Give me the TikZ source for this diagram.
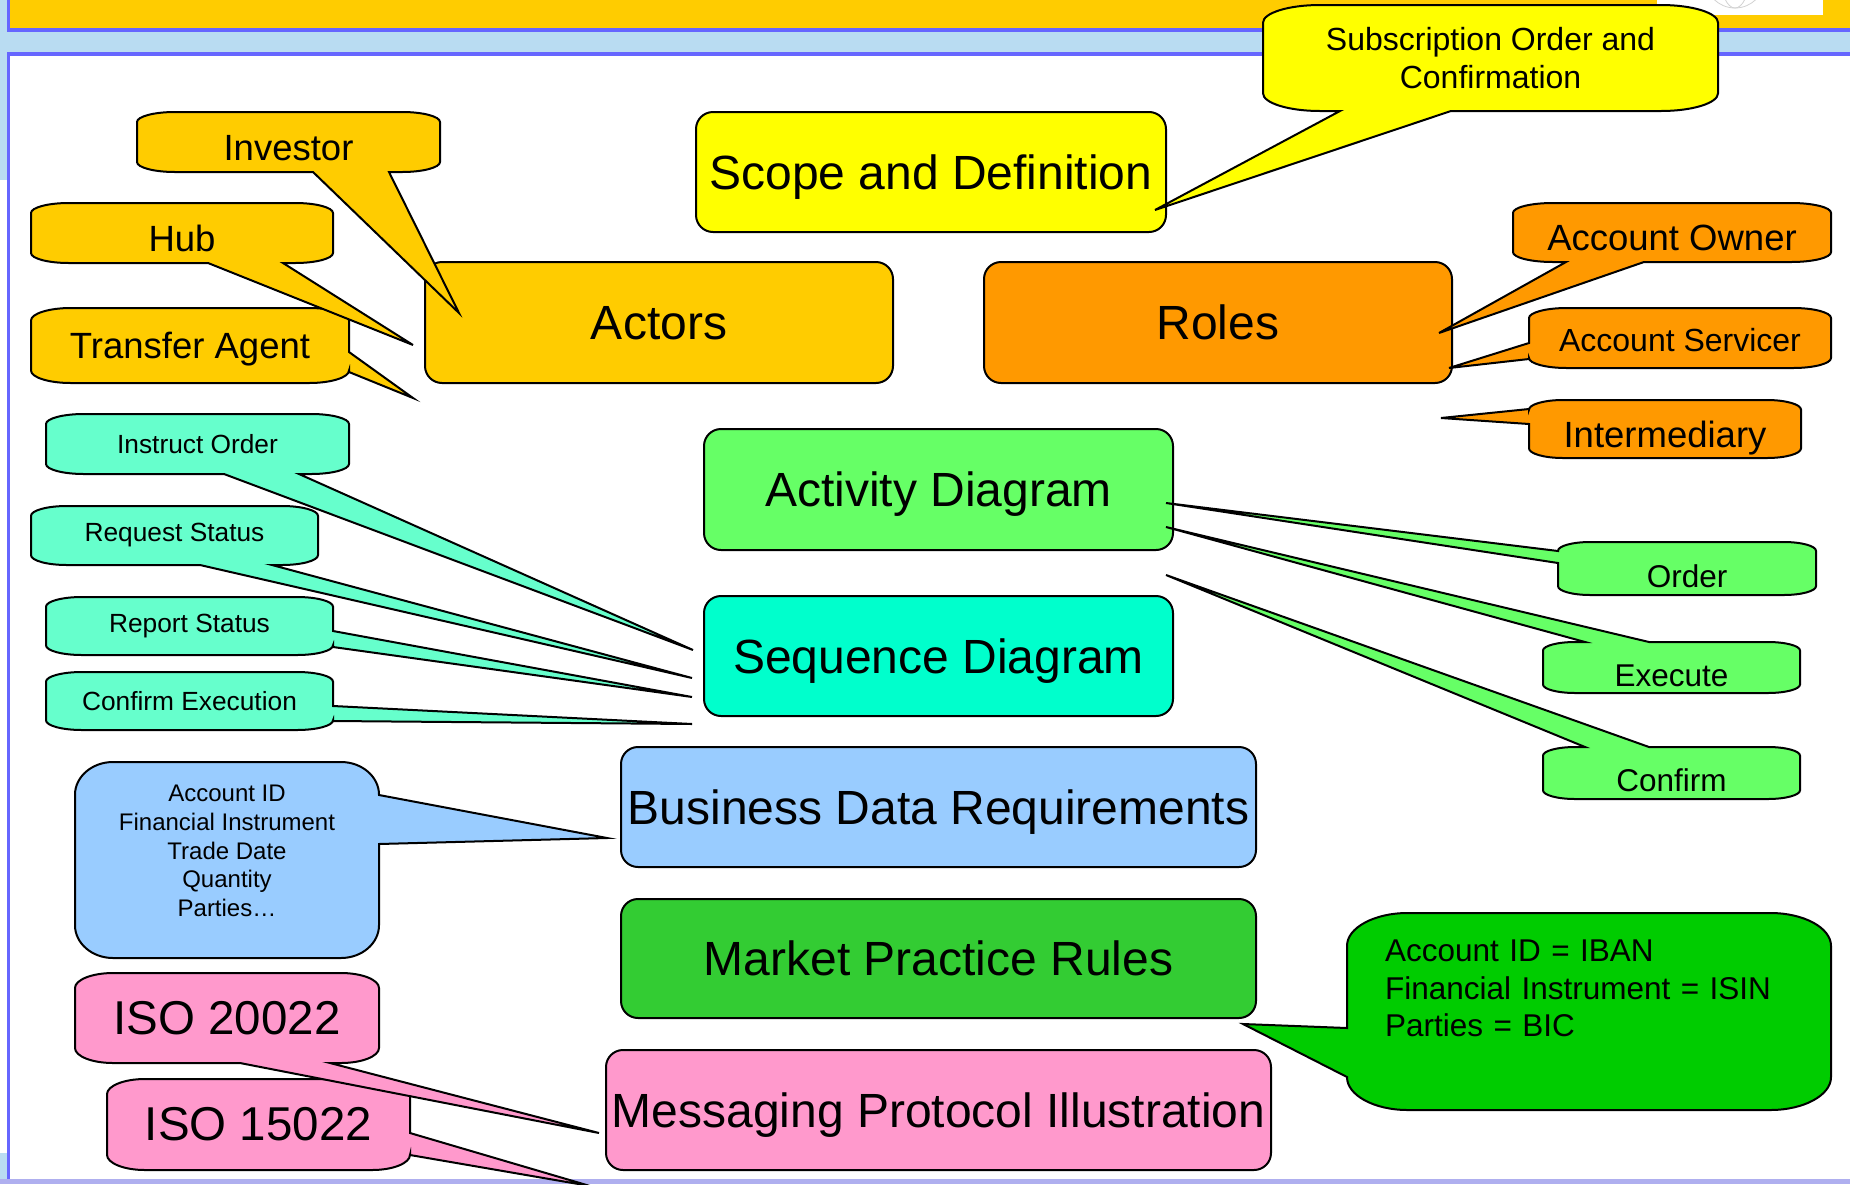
\documentclass[tikz,border=0pt]{standalone}
\usepackage{fontspec}
\setmainfont{Liberation Sans}
\usetikzlibrary{calc}
\pgfdeclarelayer{back}
\pgfdeclarelayer{shapes}
\pgfsetlayers{back,shapes,main}

\definecolor{actorfill}{HTML}{FFCC00}
\definecolor{rolefill}{HTML}{FF9900}
\definecolor{scopefill}{HTML}{FFFF00}
\definecolor{actfill}{HTML}{66FF66}
\definecolor{seqfill}{HTML}{00FFCC}
\definecolor{seqnote}{HTML}{66FFCC}
\definecolor{datafill}{HTML}{99CCFF}
\definecolor{rulefill}{HTML}{33CC33}
\definecolor{rulenote}{HTML}{00CC00}
\definecolor{msgfill}{HTML}{FF99CC}
\definecolor{frameblue}{HTML}{6666FF}
\definecolor{bandblue}{HTML}{B9DCF2}
\definecolor{bottomline}{HTML}{AFAFEF}

\tikzset{
    topic/.style={
        draw, line width=2pt,
        rounded corners=17pt,
        inner sep=0pt, outer sep=0pt,
        minimum width=469pt, minimum height=120pt,
        text depth=0pt,
        font=\fontsize{48}{58}\selectfont},
    bubble/.style={
        inner sep=0pt, outer sep=0pt,
        align=center},
    bubble line/.style={draw, line width=2pt},
    txtbig/.style={font=\fontsize{36.5}{44}\selectfont, text height=36pt, text depth=0pt},
    txtmid/.style={font=\fontsize{32}{37.8}\selectfont},
    txtact/.style={font=\fontsize{31.5}{37.8}\selectfont, text height=37pt, text depth=0pt},
    txtsmall/.style={font=\fontsize{26.3}{31}\selectfont},
    txttiny/.style={font=\fontsize{24}{28.7}\selectfont},
    txtiso/.style={font=\fontsize{47.5}{56}\selectfont}}

% #1 node, #2 fill, #3 side (T,R,B,L), #4 #5 pointer base along that side
\newcommand{\bubble}[5]{%
    \def\ptT{}\def\ptR{}\def\ptB{}\def\ptL{}%
    \if#3T\def\ptT{-- (#4,0 |- #1.north) -- (#1-tip) -- (#5,0 |- #1.north)}\fi
    \if#3R\def\ptR{-- (#1.east |- 0,#4) -- (#1-tip) -- (#1.east |- 0,#5)}\fi
    \if#3B\def\ptB{-- (#4,0 |- #1.south) -- (#1-tip) -- (#5,0 |- #1.south)}\fi
    \if#3L\def\ptL{-- (#1.west |- 0,#4) -- (#1-tip) -- (#1.west |- 0,#5)}\fi
    \begin{pgfonlayer}{shapes}
    \path[bubble line, fill=#2] let \p1=(#1.north west), \p2=(#1.south east),
            \n1={(\x2-\x1)/8}, \n2={(\y1-\y2)/6} in
        (\x1,\y1-\n2) .. controls (\x1,\y1-0.45*\n2) and (\x1+0.45*\n1,\y1) .. (\x1+\n1,\y1) \ptT
        -- (\x2-\n1,\y1) .. controls (\x2-0.45*\n1,\y1) and (\x2,\y1-0.45*\n2) .. (\x2,\y1-\n2) \ptR
        -- (\x2,\y2+\n2) .. controls (\x2,\y2+0.45*\n2) and (\x2-0.45*\n1,\y2) .. (\x2-\n1,\y2) \ptB
        -- (\x1+\n1,\y2) .. controls (\x1+0.45*\n1,\y2) and (\x1,\y2+0.45*\n2) .. (\x1,\y2+\n2) \ptL
        -- cycle;
    \end{pgfonlayer}}

\begin{document}
\begin{tikzpicture}[x=1pt, y=-1pt]
    \useasboundingbox (0,0) rectangle (1850,1184);

    % slide frame
    \begin{pgfonlayer}{back}
        \fill[white] (0,0) rectangle (1850,1184);
        \fill[bandblue] (0,0) rectangle (1850,56);
        \fill[bandblue] (0,0) rectangle (7,180);
        \fill[frameblue] (7,0) rectangle (1850,32);
        \fill[actorfill] (10,0) rectangle (1850,28);
        \fill[frameblue] (7,52) rectangle (1850,1179);
        \fill[white] (10,56) rectangle (1850,1179);
        \fill[bandblue] (0,1153) rectangle (7,1179);
        \fill[bottomline] (0,1179) rectangle (1850,1184);
        \fill[white] (1657,0) rectangle (1823,15);
        \begin{scope}
            \clip (1657,0) rectangle (1823,15);
            \draw[gray!35, line width=0.8pt] (1735,-22) circle (30);
            \draw[gray!35, line width=0.8pt] (1735,-22) ellipse (14 and 30);
        \end{scope}
    \end{pgfonlayer}

    % main topics
    \begin{pgfonlayer}{shapes}
        \node[topic, fill=scopefill, minimum width=470pt] (scope) at (931,172) {Scope and Definition};
        \node[topic, fill=actorfill, minimum width=468pt, minimum height=121pt] (actors) at (659,322.5) {Actors};
        \node[topic, fill=rolefill, minimum width=468pt, minimum height=121pt] (roles) at (1218,322.5) {Roles};
        \node[topic, fill=actfill, minimum height=121pt] (activity) at (938.5,489.5) {Activity Diagram};
        \node[topic, fill=seqfill] (sequence) at (938.5,656) {Sequence Diagram};
        \node[topic, fill=datafill, minimum width=635pt] (bizdata) at (938.5,807) {Business Data Requirements};
        \node[topic, fill=rulefill, minimum width=635pt, minimum height=119pt] (rules) at (938.5,958.5) {Market Practice Rules};
        \node[topic, fill=msgfill, minimum width=665pt] (msg) at (938.5,1110) {Messaging Protocol Illustration};
    \end{pgfonlayer}

    % actors
    \coordinate (ta-tip) at (413,398);
    \node[bubble, txtbig, text height=25pt, minimum width=318pt, minimum height=75pt] (ta) at (190,345.5) {Transfer Agent};
    \bubble{ta}{actorfill}{R}{352}{372}
    \coordinate (hub-tip) at (413,345);
    \node[bubble, txtbig, minimum width=302pt, minimum height=60pt] (hub) at (182,233) {Hub};
    \bubble{hub}{actorfill}{B}{283}{208}
    \coordinate (inv-tip) at (459,313);
    \node[bubble, txtbig, minimum width=303pt, minimum height=60pt] (inv) at (288.5,142) {Investor};
    \bubble{inv}{actorfill}{B}{389}{313}

    % roles
    \coordinate (own-tip) at (1439,333);
    \node[bubble, txtbig, minimum width=318pt, minimum height=59pt] (own) at (1672,232.5) {Account Owner};
    \bubble{own}{rolefill}{B}{1644}{1566}
    \coordinate (svc-tip) at (1449,368);
    \node[bubble, txtmid, text height=27pt, text depth=0pt, minimum width=302pt, minimum height=60pt] (svc) at (1680,338) {Account Servicer};
    \bubble{svc}{rolefill}{L}{359}{343}
    \coordinate (imd-tip) at (1441,418);
    \node[bubble, txtbig, minimum width=272pt, minimum height=58pt] (imd) at (1665,429) {Intermediary};
    \bubble{imd}{rolefill}{L}{424}{409}

    % scope
    \coordinate (sub-tip) at (1155,210);
    \node[bubble, txtmid, minimum width=455pt, minimum height=106pt] (sub) at (1490.5,58) {Subscription Order and\\Confirmation};
    \bubble{sub}{scopefill}{B}{1451}{1340}

    % sequence
    \coordinate (cex-tip) at (692,724);
    \node[bubble, txtsmall, minimum width=287pt, minimum height=58pt] (cex) at (189.5,701) {Confirm Execution};
    \bubble{cex}{seqnote}{R}{706}{721}
    \coordinate (rep-tip) at (692,697);
    \node[bubble, txtsmall, minimum width=287pt, minimum height=58pt] (rep) at (189.5,626) {Report Status};
    \bubble{rep}{seqnote}{R}{631}{647}
    \coordinate (req-tip) at (692,678);
    \node[bubble, txtsmall, minimum width=287pt, minimum height=59pt] (req) at (174.5,535.5) {Request Status};
    \bubble{req}{seqnote}{B}{272}{200}
    \coordinate (ins-tip) at (693,650);
    \node[bubble, txtsmall, minimum width=303pt, minimum height=60pt] (ins) at (197.5,444) {Instruct Order};
    \bubble{ins}{seqnote}{B}{299}{224}

    % activity
    \coordinate (ord-tip) at (1166,503);
    \node[bubble, txtact, minimum width=258pt, minimum height=53pt] (ord) at (1687,568.5) {Order};
    \bubble{ord}{actfill}{L}{563}{551}
    \coordinate (exe-tip) at (1166,527);
    \node[bubble, txtact, minimum width=257pt, minimum height=51pt] (exe) at (1671.5,667.5) {Execute};
    \bubble{exe}{actfill}{T}{1585}{1649}
    \coordinate (cnf-tip) at (1166,575);
    \node[bubble, txtact, minimum width=257pt, minimum height=52pt] (cnf) at (1671.5,773) {Confirm};
    \bubble{cnf}{actfill}{T}{1585}{1649}

    % business data
    \coordinate (bdr-tip) at (607,838);
    \node[bubble, txttiny, minimum width=304pt, minimum height=196pt, text depth=18pt] (bdr) at (227,860)
        {Account ID\\Financial Instrument\\Trade Date\\Quantity\\Parties…};
    \bubble{bdr}{datafill}{R}{795}{844}

    % standards
    \coordinate (i15-tip) at (590,1186);
    \node[bubble, txtiso, minimum width=303pt, minimum height=91pt] (i15) at (258.5,1124.5) {ISO 15022};
    \bubble{i15}{msgfill}{R}{1133}{1155}
    \coordinate (i20-tip) at (599,1133);
    \node[bubble, txtiso, minimum width=304pt, minimum height=90pt] (i20) at (227,1018) {ISO 20022};
    \bubble{i20}{msgfill}{B}{330}{240}

    % market practice
    \coordinate (mpr-tip) at (1243,1024);
    \node[bubble, font=\fontsize{31.5}{37.8}\selectfont, align=left, text width=408pt, minimum width=484pt, minimum height=197pt, text depth=122pt] (mpr) at (1589,1011.5)
        {Account ID = IBAN\\Financial Instrument = ISIN\\Parties = BIC};
    \bubble{mpr}{rulenote}{L}{1077}{1028}
\end{tikzpicture}
\end{document}
